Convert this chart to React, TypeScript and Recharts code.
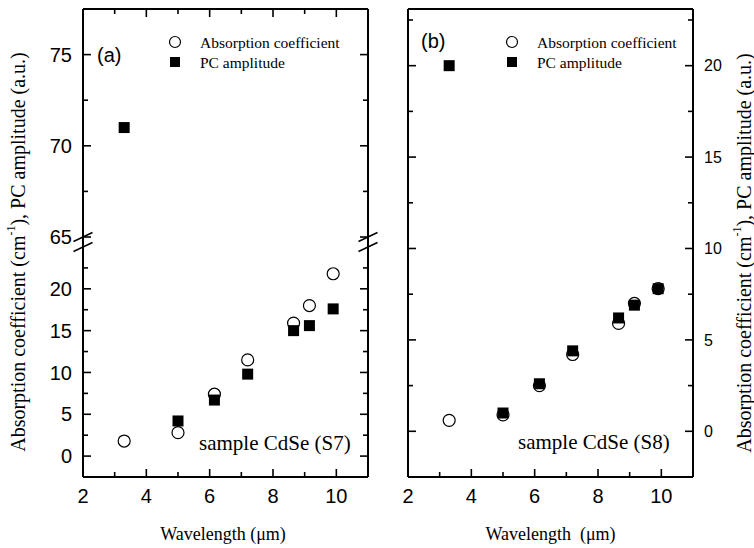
import { ScatterChart, Scatter, XAxis, YAxis } from "recharts";

// wavelength (um) of each measurement, same for both samples
const wavelength = [3.3, 5.0, 6.15, 7.2, 8.65, 9.15, 9.9];

// sample CdSe (S7), panel (a)
const absorptionS7 = [1.8, 2.8, 7.4, 11.5, 15.9, 18.0, 21.8];
const pcAmplitudeS7 = [71, 4.2, 6.7, 9.8, 15.0, 15.6, 17.6];

// sample CdSe (S8), panel (b)
const absorptionS8 = [0.6, 0.9, 2.5, 4.2, 5.9, 7.0, 7.8];
const pcAmplitudeS8 = [20, 1.0, 2.6, 4.4, 6.2, 6.9, 7.8];

const xTicks = [2, 3, 4, 5, 6, 7, 8, 9, 10];
const xTickLabels = [2, 4, 6, 8, 10];
const lowTicksS7 = [0, 2.5, 5, 7.5, 10, 12.5, 15, 17.5, 20, 22.5];
const highTicksS7 = [65, 67.5, 70, 72.5, 75];
const yTickLabelsS7 = [0, 5, 10, 15, 20, 65, 70, 75];
const ticksS8 = [0, 2.5, 5, 7.5, 10, 12.5, 15, 17.5, 20, 22.5];
const yTickLabelsS8 = [0, 5, 10, 15, 20];

const xDomain: [number, number] = [2, 11];
const lowDomainS7: [number, number] = [-2.5, 25];
const highDomainS7: [number, number] = [65, 77.5];
const domainS8: [number, number] = [-2.5, 23.1];

const SERIF = "'Liberation Serif', 'Times New Roman', serif";
const SANS = "'Liberation Sans', Arial, sans-serif";
const axisLine = { stroke: "#000", strokeWidth: 2 };

const toRows = (ys: number[]) => wavelength.map((x, i) => ({ x, y: ys[i] }));
const inside = (d: [number, number]) => (r: { y: number }) => r.y >= d[0] && r.y <= d[1];

const circleShape = (p: any) => (
  <circle cx={p.cx} cy={p.cy} r={6} fill="none" stroke="#000" strokeWidth={1.2} />
);
const squareShape = (p: any) => (
  <rect x={p.cx - 5.5} y={p.cy - 5.5} width={11} height={11} fill="#000" />
);

// tick size/margin are 0 so x/y given to the tick are on the axis line itself
const xTick = (side: "top" | "bottom", labels: number[]) => (p: any) => {
  const v = p.payload.value;
  const len = v % 2 === 0 ? 8 : 5;
  const dir = side === "bottom" ? -1 : 1;
  return (
    <g>
      <line x1={p.x} x2={p.x} y1={p.y} y2={p.y + dir * len} stroke="#000" strokeWidth={1.6} />
      {labels.includes(v) && (
        <text x={p.x} y={p.y + 26} textAnchor="middle" fontFamily={SANS} fontSize={20} fill="#000">
          {v}
        </text>
      )}
    </g>
  );
};

const yTick = (side: "left" | "right", labels: number[], fontSize: number) => (p: any) => {
  const v = p.payload.value;
  const len = v % 5 === 0 ? 8 : 5;
  const dir = side === "left" ? 1 : -1;
  return (
    <g>
      <line x1={p.x} x2={p.x + dir * len} y1={p.y} y2={p.y} stroke="#000" strokeWidth={1.6} />
      {labels.includes(v) && (
        <text
          x={p.x - dir * 11}
          y={p.y}
          dy="0.36em"
          textAnchor={side === "left" ? "end" : "start"}
          fontFamily={SANS}
          fontSize={fontSize}
          fill="#000"
        >
          {v}
        </text>
      )}
    </g>
  );
};

const common = { tickSize: 0, tickMargin: 0, tickLine: false, axisLine, interval: 0 as const, allowDataOverflow: true };

function YTitle({ x, y }: { x: number; y: number }) {
  return (
    <text
      transform={`translate(${x},${y}) rotate(-90)`}
      textAnchor="middle"
      dominantBaseline="central"
      fontFamily={SERIF}
      fontSize={20}
      fill="#000"
    >
      Absorption coefficient (cm
      <tspan dy={-7} fontSize={12}>-1</tspan>
      <tspan dy={7}>), PC amplitude (a.u.)</tspan>
    </text>
  );
}

function LegendBox({ x, y }: { x: number; y: number }) {
  return (
    <g fontFamily={SERIF} fontSize={15.5} fill="#000">
      <circle cx={x} cy={y} r={5.5} fill="none" stroke="#000" strokeWidth={1.2} />
      <text x={x + 25} y={y} dominantBaseline="central">Absorption coefficient</text>
      <rect x={x - 5} y={y + 15} width={10} height={10} fill="#000" />
      <text x={x + 25} y={y + 20} dominantBaseline="central">PC amplitude</text>
    </g>
  );
}

function Breaks({ x }: { x: number }) {
  return (
    <g stroke="#000" strokeWidth={1.5}>
      <line x1={x} x2={x} y1={237} y2={247} strokeWidth={2} />
      <line x1={x - 9.5} y1={241.5} x2={x + 9.5} y2={232.5} />
      <line x1={x - 9.5} y1={251.5} x2={x + 9.5} y2={242.5} />
    </g>
  );
}

export default function App() {
  const absS7 = toRows(absorptionS7);
  const pcS7 = toRows(pcAmplitudeS7);
  const absS8 = toRows(absorptionS8);
  const pcS8 = toRows(pcAmplitudeS8);

  return (
    <div style={{ position: "absolute", left: 0, top: 0, width: 754, height: 548, background: "#fff" }}>
      {/* panel (a), upper part of the broken axis */}
      <div style={{ position: "absolute", left: 0, top: 0 }}>
        <ScatterChart width={380} height={260} margin={{ top: 0, right: 0, bottom: 23, left: 0 }}>
          <XAxis xAxisId="t" type="number" dataKey="x" orientation="top" domain={xDomain} ticks={xTicks} height={9} tick={xTick("top", [])} {...common} />
          <YAxis yAxisId="l" type="number" dataKey="y" domain={highDomainS7} ticks={highTicksS7} width={83} tick={yTick("left", yTickLabelsS7, 20)} {...common} />
          <YAxis yAxisId="r" type="number" orientation="right" domain={highDomainS7} ticks={highTicksS7} width={12} tick={yTick("right", [], 20)} {...common} />
          <Scatter xAxisId="t" yAxisId="l" data={absS7.filter(inside(highDomainS7))} shape={circleShape} isAnimationActive={false} />
          <Scatter xAxisId="t" yAxisId="l" data={pcS7.filter(inside(highDomainS7))} shape={squareShape} isAnimationActive={false} />
        </ScatterChart>
      </div>

      {/* panel (a), lower part */}
      <div style={{ position: "absolute", left: 0, top: 247 }}>
        <ScatterChart width={380} height={301} margin={{ top: 0, right: 0, bottom: 0, left: 0 }}>
          <XAxis xAxisId="b" type="number" dataKey="x" domain={xDomain} ticks={xTicks} height={71} tick={xTick("bottom", xTickLabels)} {...common} />
          <YAxis yAxisId="l" type="number" dataKey="y" domain={lowDomainS7} ticks={lowTicksS7} width={83} tick={yTick("left", yTickLabelsS7, 20)} {...common} />
          <YAxis yAxisId="r" type="number" orientation="right" domain={lowDomainS7} ticks={lowTicksS7} width={12} tick={yTick("right", [], 20)} {...common} />
          <Scatter xAxisId="b" yAxisId="l" data={absS7.filter(inside(lowDomainS7))} shape={circleShape} isAnimationActive={false} />
          <Scatter xAxisId="b" yAxisId="l" data={pcS7.filter(inside(lowDomainS7))} shape={squareShape} isAnimationActive={false} />
        </ScatterChart>
      </div>

      {/* panel (b) */}
      <div style={{ position: "absolute", left: 380, top: 0 }}>
        <ScatterChart width={374} height={520} margin={{ top: 0, right: 0, bottom: 0, left: 0 }}>
          <XAxis xAxisId="t" type="number" orientation="top" domain={xDomain} ticks={xTicks} height={9} tick={xTick("top", [])} {...common} />
          <XAxis xAxisId="b" type="number" dataKey="x" domain={xDomain} ticks={xTicks} height={43} tick={xTick("bottom", xTickLabels)} {...common} />
          <YAxis yAxisId="l" type="number" domain={domainS8} ticks={ticksS8} width={28} tick={yTick("left", [], 16)} {...common} />
          <YAxis yAxisId="r" type="number" dataKey="y" orientation="right" domain={domainS8} ticks={ticksS8} width={61} tick={yTick("right", yTickLabelsS8, 16)} {...common} />
          <Scatter xAxisId="b" yAxisId="r" data={absS8} shape={circleShape} isAnimationActive={false} />
          <Scatter xAxisId="b" yAxisId="r" data={pcS8} shape={squareShape} isAnimationActive={false} />
        </ScatterChart>
      </div>

      <svg width={754} height={548} style={{ position: "absolute", left: 0, top: 0, pointerEvents: "none" }}>
        <Breaks x={83} />
        <Breaks x={368} />

        <text x={97} y={55} dominantBaseline="central" fontFamily={SANS} fontSize={20}>(a)</text>
        <text x={421} y={41} dominantBaseline="central" fontFamily={SANS} fontSize={20}>(b)</text>

        <LegendBox x={175} y={42} />
        <LegendBox x={512} y={42} />

        <text x={199} y={443} dominantBaseline="central" fontFamily={SERIF} fontSize={21}>sample CdSe (S7)</text>
        <text x={518} y={442} dominantBaseline="central" fontFamily={SERIF} fontSize={21}>sample CdSe (S8)</text>

        <text x={223} y={540} textAnchor="middle" fontFamily={SERIF} fontSize={18}>Wavelength (μm)</text>
        <text x={550.5} y={540} textAnchor="middle" fontFamily={SERIF} fontSize={18} style={{ whiteSpace: "pre" }}>
          Wavelength  (μm)
        </text>

        <YTitle x={18} y={252} />
        <YTitle x={744} y={253} />
      </svg>
    </div>
  );
}
